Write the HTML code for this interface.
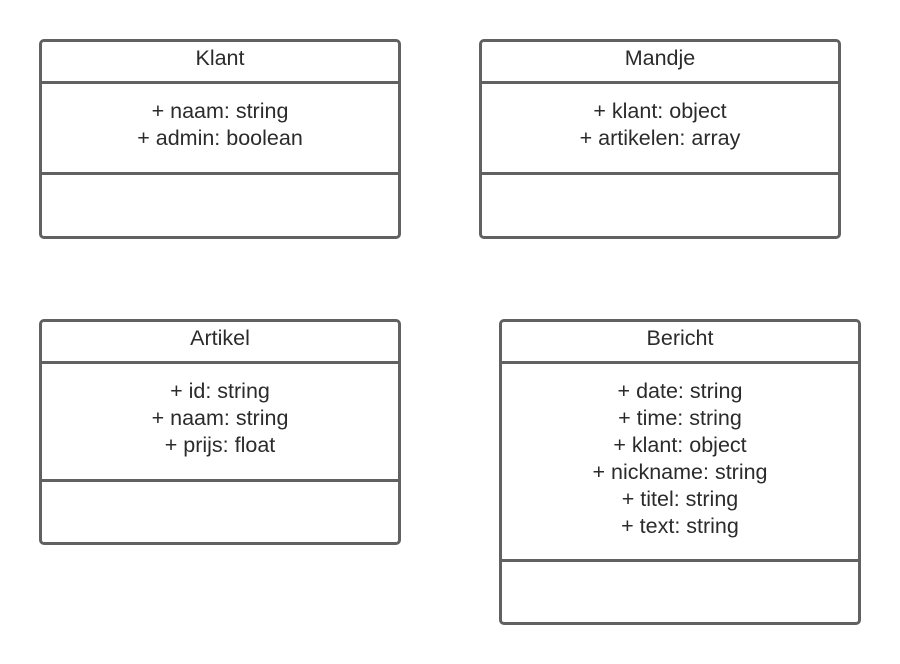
<!DOCTYPE html>
<html><head><meta charset="utf-8"><style>
body{margin:0;width:900px;height:664px;background:#fff;position:relative;overflow:hidden;font-family:"Liberation Sans",sans-serif;color:#2b2b2b}
.box{position:absolute;border:3px solid #616161;border-radius:5px;box-sizing:border-box}
.div{position:absolute;left:0;right:0;height:3px;background:#616161}
.t{position:absolute;left:0;right:0;text-align:center;font-size:21.5px;line-height:27px}
</style></head><body>
<div class="box" style="left:39px;top:39px;width:362px;height:200px">
 <div class="t" style="top:3px">Klant</div>
 <div class="div" style="top:39px"></div>
 <div class="t" style="top:56px">+ naam: string<br>+ admin: boolean</div>
 <div class="div" style="top:130px"></div>
</div>
<div class="box" style="left:479px;top:39px;width:362px;height:200px">
 <div class="t" style="top:3px">Mandje</div>
 <div class="div" style="top:39px"></div>
 <div class="t" style="top:56px">+ klant: object<br>+ artikelen: array</div>
 <div class="div" style="top:130px"></div>
</div>
<div class="box" style="left:39px;top:319px;width:362px;height:226px">
 <div class="t" style="top:3px">Artikel</div>
 <div class="div" style="top:39px"></div>
 <div class="t" style="top:56px">+ id: string<br>+ naam: string<br>+ prijs: float</div>
 <div class="div" style="top:157px"></div>
</div>
<div class="box" style="left:499px;top:319px;width:362px;height:306px">
 <div class="t" style="top:3px">Bericht</div>
 <div class="div" style="top:39px"></div>
 <div class="t" style="top:56px">+ date: string<br>+ time: string<br>+ klant: object<br>+ nickname: string<br>+ titel: string<br>+ text: string</div>
 <div class="div" style="top:237px"></div>
</div>
</body></html>
